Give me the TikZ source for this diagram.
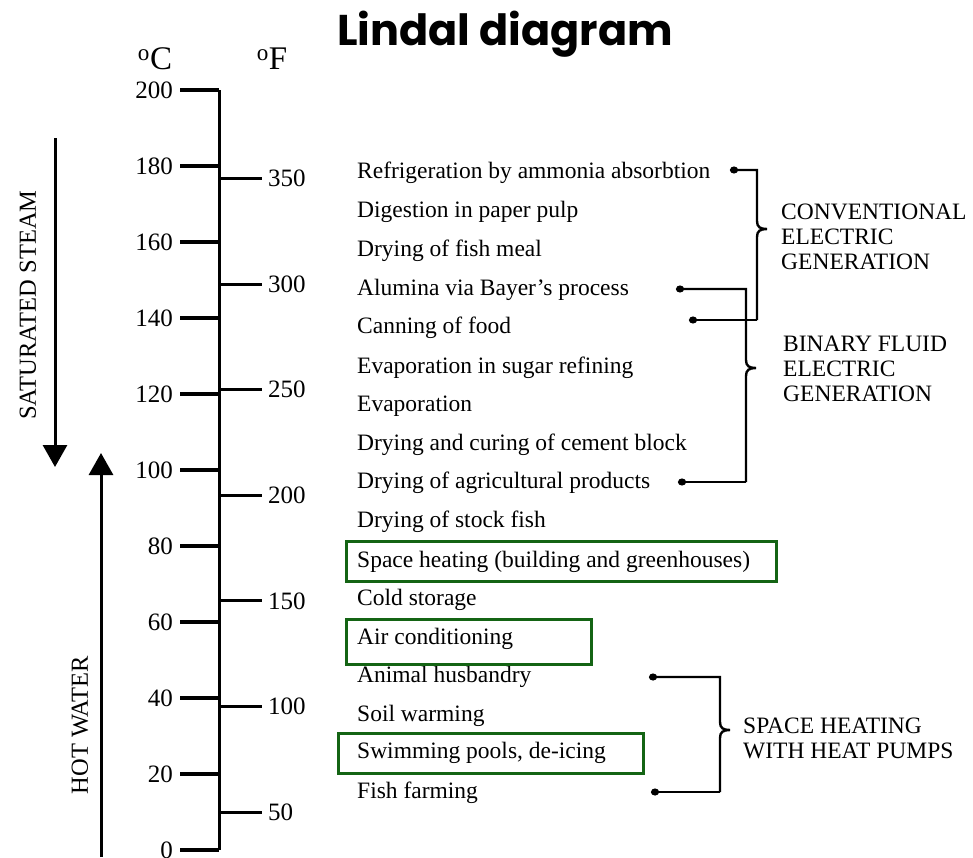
\documentclass[tikz,border=0pt]{standalone}
\usepackage{fontspec}
\setmainfont{Liberation Serif}
\newfontfamily\titlefont{Poppins}
\usetikzlibrary{arrows.meta}
\definecolor{boxgreen}{RGB}{20,100,20}
\tikzset{
  lbl/.style={anchor=west,inner sep=0pt,font=\fontsize{23.5}{23.5}\selectfont,yshift=-2pt},
  cnum/.style={anchor=east,inner sep=0pt,font=\fontsize{25}{25}\selectfont},
  fnum/.style={anchor=west,inner sep=0pt,font=\fontsize{25}{25}\selectfont},
  grp/.style={anchor=west,inner sep=0pt,align=left,font=\fontsize{23.5}{25}\selectfont},
  side/.style={inner sep=0pt,font=\fontsize{24.5}{24.5}\selectfont,rotate=90},
  gbox/.style={draw=boxgreen,line width=3pt},
  dotend/.style={line width=2.4pt,{Circle[length=8pt,width=7pt]}-},
  dotstart/.style={line width=2.4pt,-{Circle[length=8pt,width=7pt]}},
  bigarrow/.style={line width=3pt,-{Triangle[length=22pt,width=24pt]}},
}
\begin{document}
\begin{tikzpicture}[x=1pt,y=-1pt]
\useasboundingbox (0,0) rectangle (973,857);
% title
\node[font=\titlefont\bfseries\fontsize{43}{43}\selectfont,inner sep=0pt] (title) at (505,34) {Lindal diagram};
% unit headers
\node[font=\fontsize{33}{33}\selectfont,inner sep=0pt] (degC) at (155,59) {\textsuperscript{o}C};
\node[font=\fontsize{33}{33}\selectfont,inner sep=0pt] (degF) at (272,59) {\textsuperscript{o}F};
% axis
\coordinate (atop) at (219,90);
\coordinate (abot) at (219,850);
\draw[line width=3pt] (atop) -- (abot);
% celsius ticks
\foreach \c in {0,20,...,200}{
  \pgfmathsetmacro{\yy}{850-3.8*\c}
  \draw[line width=3.6pt] (180,\yy) -- (219,\yy);
  \node[cnum] (c\c) at (173,\yy) {\c};
}
% fahrenheit ticks
\foreach \f in {50,100,...,350}{
  \pgfmathsetmacro{\yy}{850-3.8*(\f-32)*5/9}
  \draw[line width=3pt] (219,\yy) -- (262,\yy);
  \node[fnum] (f\f) at (268,\yy) {\f};
}
% side arrows
\coordinate (sst) at (55,138);
\coordinate (sse) at (55,467);
\draw[bigarrow] (sst) -- (sse);
\node[side] (steam) at (28,305) {SATURATED STEAM};
\coordinate (hws) at (101,857);
\coordinate (hwe) at (101,453);
\draw[bigarrow] (hws) -- (hwe);
\node[side] (hot) at (80,725) {HOT WATER};
% applications
\node[lbl] (a1) at (357,171) {Refrigeration by ammonia absorbtion};
\node[lbl] (a2) at (357,210) {Digestion in paper pulp};
\node[lbl] (a3) at (357,249) {Drying of fish meal};
\node[lbl] (a4) at (357,288) {Alumina via Bayer’s process};
\node[lbl] (a5) at (357,326) {Canning of food};
\node[lbl] (a6) at (357,366) {Evaporation in sugar refining};
\node[lbl] (a7) at (357,404) {Evaporation};
\node[lbl] (a8) at (357,443) {Drying and curing of cement block};
\node[lbl] (a9) at (357,481) {Drying of agricultural products};
\node[lbl] (a10) at (357,520) {Drying of stock fish};
\node[lbl] (a11) at (357,560) {Space heating (building and greenhouses)};
\node[lbl] (a12) at (357,598) {Cold storage};
\node[lbl] (a13) at (357,637) {Air conditioning};
\node[lbl] (a14) at (357,675) {Animal husbandry};
\node[lbl] (a15) at (357,714) {Soil warming};
\node[lbl] (a16) at (357,751) {Swimming pools, de-icing};
\node[lbl] (a17) at (357,791) {Fish farming};
% green boxes
\draw[gbox] (346,541) rectangle (776,581);
\draw[gbox] (346,619) rectangle (591,664);
\draw[gbox] (338,733) rectangle (643,773);
% conventional electric generation
\coordinate (cv1) at (730,170);
\coordinate (cv2) at (689,320);
\draw[dotend] (cv1) -- (757,170) -- (757,221) .. controls (757,227) and (760,229) .. (767,229)
  .. controls (760,229) and (757,231) .. (757,237) -- (757,320);
\draw[dotstart] (757,320) -- (cv2);
\node[grp] (conv) at (781,237) {CONVENTIONAL\\ELECTRIC\\GENERATION};
% binary fluid
\coordinate (bf1) at (676,289);
\coordinate (bf2) at (678,482);
\draw[dotend] (bf1) -- (746,289) -- (746,360) .. controls (746,366) and (749,368) .. (756,368)
  .. controls (749,368) and (746,370) .. (746,376) -- (746,482);
\draw[dotstart] (746,482) -- (bf2);
\node[grp] (bin) at (783,369) {BINARY FLUID\\ELECTRIC\\GENERATION};
% heat pumps
\coordinate (hp1) at (649,677);
\coordinate (hp2) at (651,792);
\draw[dotend] (hp1) -- (720,677) -- (720,722) .. controls (720,728) and (723,730) .. (730,730)
  .. controls (723,730) and (720,732) .. (720,738) -- (720,792);
\draw[dotstart] (720,792) -- (hp2);
\node[grp] (hpl) at (743,738) {SPACE HEATING\\WITH HEAT PUMPS};
\end{tikzpicture}
\end{document}
